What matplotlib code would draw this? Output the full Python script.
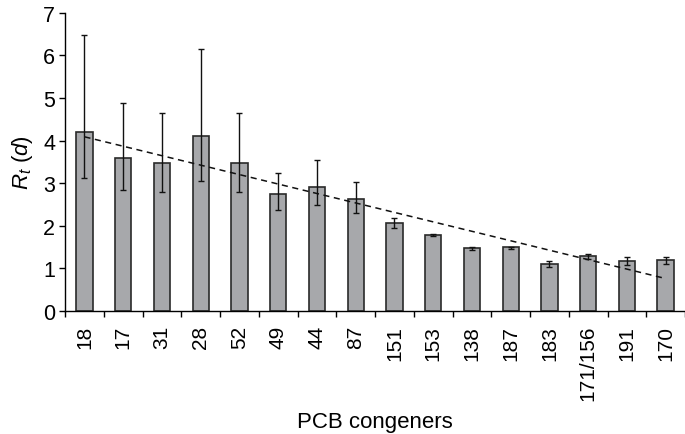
import numpy as np
import matplotlib
matplotlib.use("Agg")
import matplotlib.pyplot as plt
from matplotlib.ticker import FixedLocator

plt.rcParams['font.family'] = ['Liberation Sans', 'DejaVu Sans']
plt.rcParams['mathtext.fontset'] = 'custom'
plt.rcParams['mathtext.it'] = 'Liberation Sans:italic'
plt.rcParams['mathtext.rm'] = 'Liberation Sans'

congeners = ['18', '17', '31', '28', '52', '49', '44', '87', '151', '153',
             '138', '187', '183', '171/156', '191', '170']
rt = [4.21, 3.59, 3.47, 4.11, 3.48, 2.75, 2.92, 2.62, 2.06, 1.79,
      1.48, 1.49, 1.09, 1.28, 1.17, 1.19]
err_hi = [6.47, 4.88, 4.64, 6.15, 4.64, 3.25, 3.54, 3.03, 2.19, 1.81,
          1.50, 1.51, 1.18, 1.34, 1.26, 1.26]
err_lo = [3.12, 2.84, 2.79, 3.06, 2.79, 2.38, 2.48, 2.31, 1.94, 1.75,
          1.44, 1.46, 1.02, 1.21, 1.08, 1.10]
# linear trend line, value at first and last congener
trend_ends = [4.09, 0.76]

x = np.arange(len(congeners))
rt = np.array(rt)
yerr = [rt - np.array(err_lo), np.array(err_hi) - rt]

fig = plt.figure(figsize=(6.85, 4.35), dpi=100)
ax = fig.add_axes([0.095, 0.283, 0.905, 0.685])

ax.bar(x, rt, width=0.42, color='#a7a8ab', edgecolor='#2a2a2a', linewidth=1.2, zorder=2)
ax.errorbar(x, rt, yerr=yerr, fmt='none', ecolor='#111111', elinewidth=1,
            capsize=2.5, capthick=1, zorder=3)
ax.plot([x[0], x[-1]], trend_ends, linestyle=(0, (4, 3)), color='#111111', linewidth=1.1, zorder=4)

ax.set_xlim(-0.5, len(congeners) - 0.5)
ax.set_ylim(0, 7)
ax.set_yticks(range(0, 8))
ax.set_xticks(x)
ax.set_xticklabels(congeners, rotation=90)
ax.xaxis.set_minor_locator(FixedLocator(np.arange(-0.5, len(congeners), 1)))
ax.tick_params(axis='x', which='major', length=0, pad=10, labelsize=15)
ax.tick_params(axis='x', which='minor', length=4, width=1, direction='out')
ax.tick_params(axis='y', length=4, width=1, labelsize=15.5, pad=3)

for s in ['top', 'right']:
    ax.spines[s].set_visible(False)
for s in ['left', 'bottom']:
    ax.spines[s].set_linewidth(1)

ax.set_ylabel(r'$R_t$ ($d$)', fontsize=16, labelpad=6)
ax.set_xlabel('PCB congeners', fontsize=16, labelpad=8)

fig.savefig('out.png', dpi=100)
